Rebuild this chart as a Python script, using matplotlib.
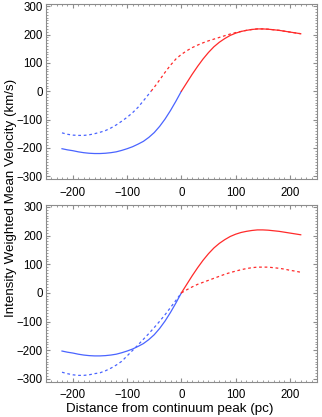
import matplotlib
matplotlib.use('Agg')
import matplotlib.pyplot as plt
from matplotlib.ticker import MultipleLocator
import numpy as np

plt.rcParams['font.family'] = ['Liberation Sans', 'DejaVu Sans']

# distance from continuum peak (pc)
dist = np.arange(-220, 221, 10)

# solid curve (same in both panels)
solid = [-203, -207, -210, -214, -217, -219, -220, -220, -219, -217,
         -214, -209, -203, -196, -187, -177, -163, -146, -124, -98,
         -68, -35, 0, 30, 60, 88, 114, 137, 157, 173,
         186, 197, 205, 211, 215, 218, 220, 220, 219, 217,
         215, 212, 209, 206, 203]

# dashed curve, top panel
dashed_top = [-147, -152, -155, -156, -156, -154, -150, -145, -139, -130,
              -119, -106, -92, -76, -57, -34, -10, 14, 40, 67,
              92, 114, 130, 143, 154, 163, 171, 178, 184, 190,
              196, 202, 207, 211, 215, 218, 220, 220, 219, 217,
              215, 212, 209, 206, 203]

# dashed curve, bottom panel
dashed_bot = [-277, -282, -286, -288, -288, -286, -282, -279, -272, -263,
              -252, -239, -220, -201, -182, -162, -142, -121, -99, -76,
              -51, -26, 0, 11, 21, 30, 37, 44, 51, 58,
              65, 71, 76, 81, 85, 88, 90, 90, 90, 88,
              86, 83, 79, 76, 72]

BLUE = '#4a64ff'
RED = '#ff2a2a'


# split a curve at y=0: blue below, red above
def plot_split(ax, x, y, ls):
    x = np.asarray(x, float)
    y = np.asarray(y, float)
    xs, ys = [x[0]], [y[0]]
    for i in range(1, len(x)):
        if (y[i - 1] < 0) != (y[i] < 0) and y[i - 1] != 0 and y[i] != 0:
            x0 = x[i - 1] - y[i - 1] * (x[i] - x[i - 1]) / (y[i] - y[i - 1])
            xs.append(x0)
            ys.append(0.0)
        xs.append(x[i])
        ys.append(y[i])
    xs = np.array(xs)
    ys = np.array(ys)
    neg = ys <= 0
    pos = ys >= 0
    ax.plot(np.where(neg, xs, np.nan), np.where(neg, ys, np.nan),
            color=BLUE, lw=0.9, ls=ls)
    ax.plot(np.where(pos, xs, np.nan), np.where(pos, ys, np.nan),
            color=RED, lw=0.9, ls=ls)


def style_axis(ax):
    ax.set_xlim(-250, 250)
    ax.set_ylim(-310, 308)
    ax.xaxis.set_major_locator(MultipleLocator(100))
    ax.xaxis.set_minor_locator(MultipleLocator(10))
    ax.yaxis.set_major_locator(MultipleLocator(100))
    ax.yaxis.set_minor_locator(MultipleLocator(10))
    ax.tick_params(which='both', direction='in', top=True, right=True,
                   color='0.55', labelsize=8.3)
    ax.tick_params(which='major', length=3, width=0.8)
    ax.tick_params(which='minor', length=1.6, width=0.6)
    ax.tick_params(axis='x', pad=5.5)
    ax.tick_params(axis='y', pad=2)
    for s in ax.spines.values():
        s.set_color('0.55')
        s.set_linewidth(0.8)


fig = plt.figure(figsize=(3.22, 4.17), dpi=100)
ax1 = fig.add_axes([0.142, 0.5707, 0.8425, 0.4197])
ax2 = fig.add_axes([0.142, 0.0847, 0.8425, 0.4244])

dash = (0, (2.2, 2.2))
plot_split(ax1, dist, solid, '-')
plot_split(ax1, dist, dashed_top, dash)
plot_split(ax2, dist, solid, '-')
plot_split(ax2, dist, dashed_bot, dash)

style_axis(ax1)
style_axis(ax2)

fig.text(0.527, 0.019, 'Distance from continuum peak (pc)',
         ha='center', va='center', fontsize=9.6)
fig.text(0.034, 0.525, 'Intensity Weighted Mean Velocity (km/s)', rotation=90,
         ha='center', va='center', fontsize=9.6)

fig.savefig('out.png', dpi=100)
